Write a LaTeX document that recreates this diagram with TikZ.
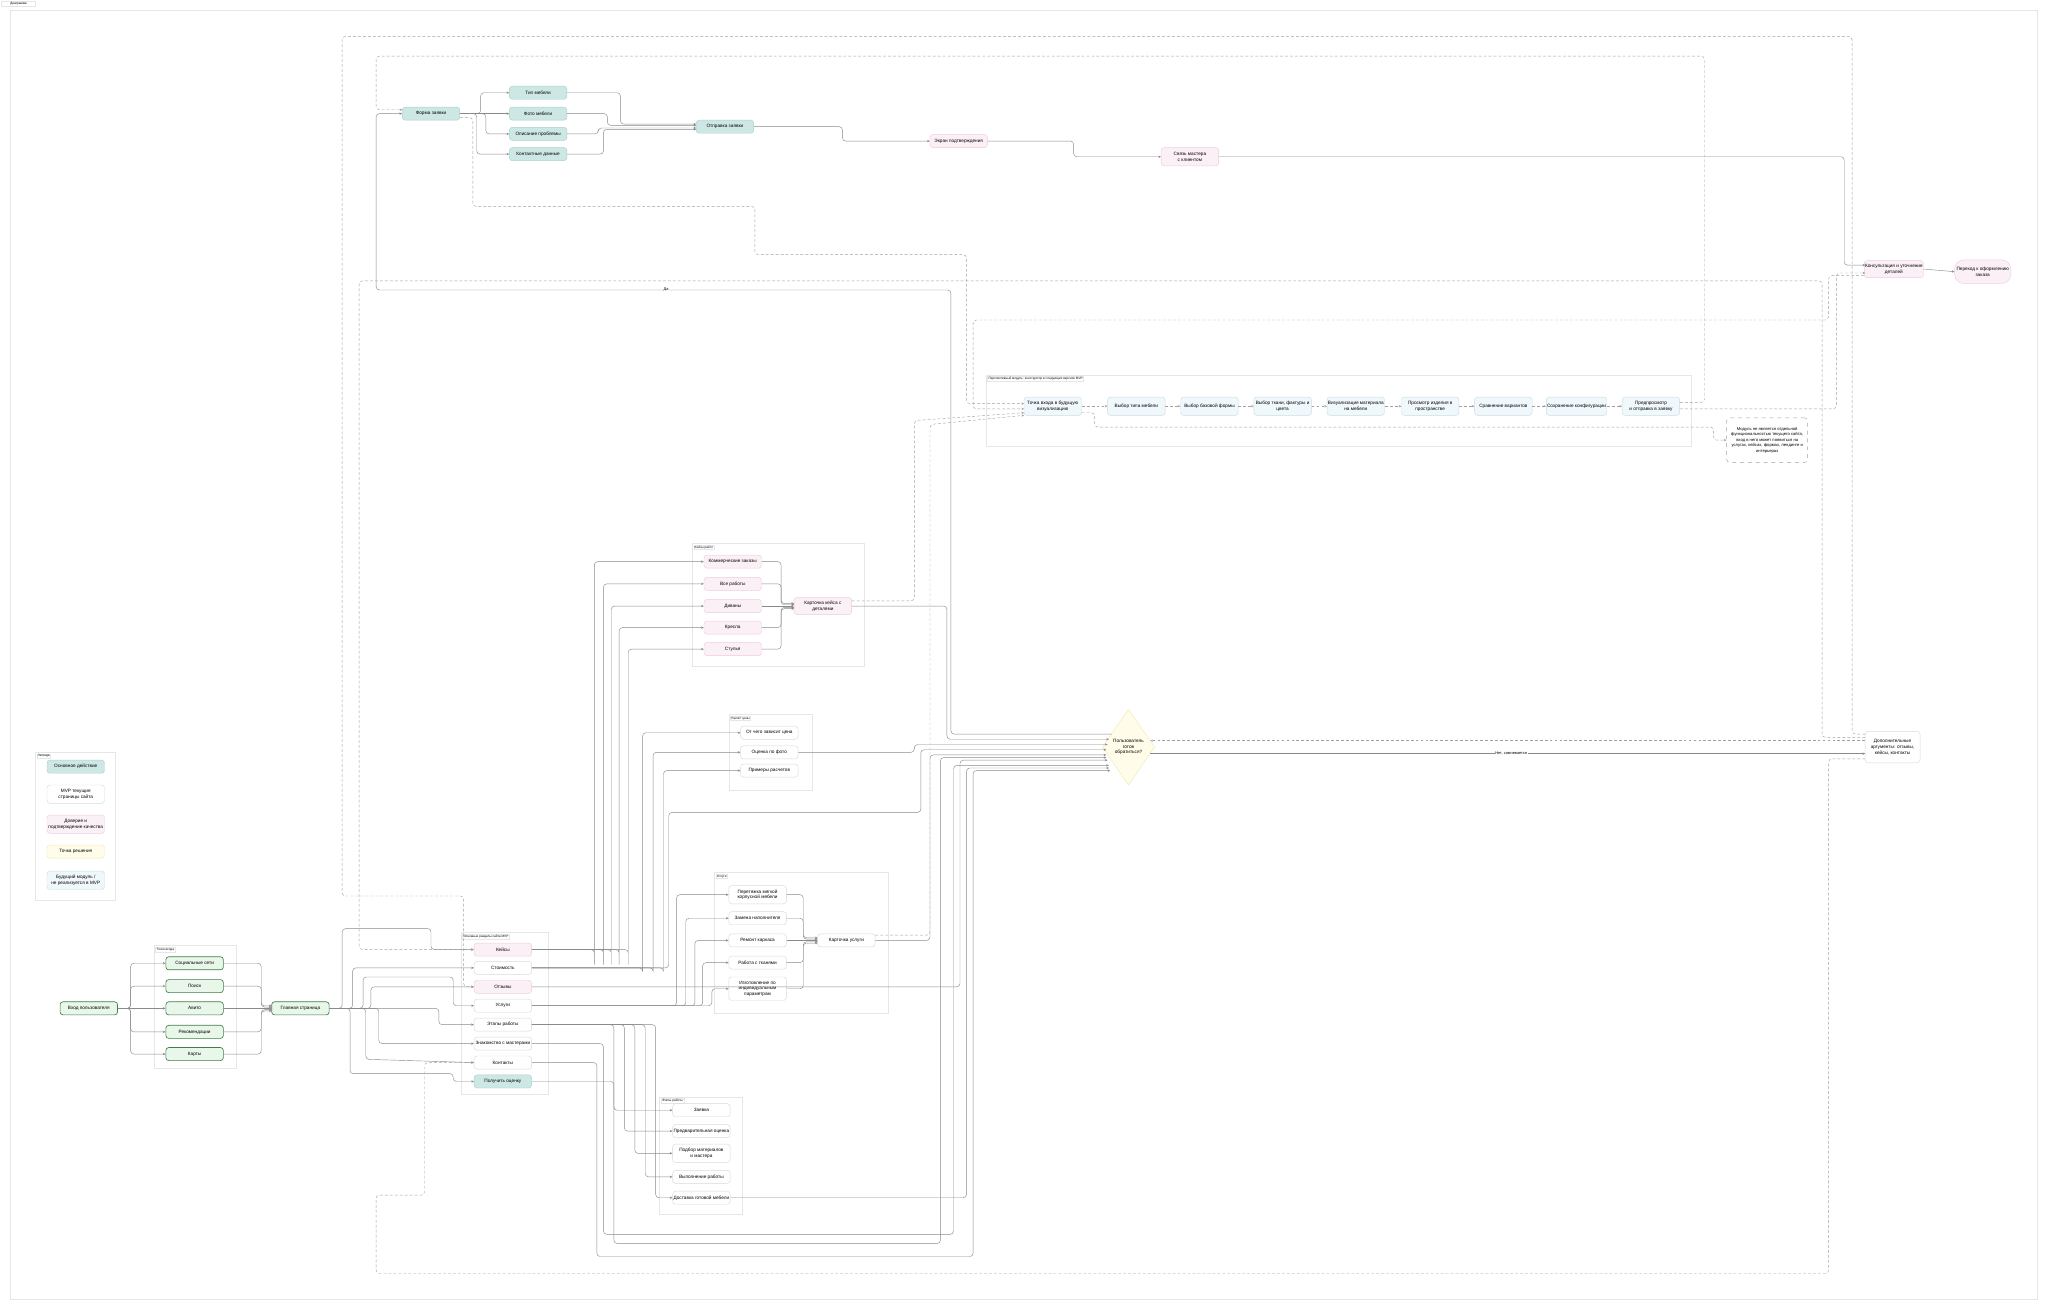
\documentclass[tikz,border=0pt]{standalone}
\usepackage{fontspec}
\setmainfont{Liberation Sans}
\usetikzlibrary{arrows.meta,shapes.geometric,calc}
\definecolor{cTeal}{HTML}{CDE7E5}
\definecolor{cTealB}{HTML}{A9D4CF}
\definecolor{cPink}{HTML}{FCF0F7}
\definecolor{cPinkB}{HTML}{EFCBE0}
\definecolor{cGreen}{HTML}{E9F6EA}
\definecolor{cGreenB}{HTML}{3E7F45}
\definecolor{cWhiteB}{HTML}{DADADA}
\definecolor{cYel}{HTML}{FFFDE9}
\definecolor{cYelB}{HTML}{F2EAB5}
\definecolor{cBlue}{HTML}{F0F8FC}
\definecolor{cBlueB}{HTML}{C8DEE7}
\definecolor{cGrp}{HTML}{E6E6E6}
\definecolor{cEdge}{HTML}{8A8A8A}
\begin{document}
\begin{tikzpicture}[x=1pt,y=-1pt,
  every node/.style={font=\fontsize{3.6}{4.3}\selectfont},
  nd/.style={rounded corners=2.2pt, minimum width=44pt, minimum height=10pt, inner sep=0.6pt, align=center, line width=0.35pt},
  nW/.style={nd, fill=white, draw=cWhiteB},
  nT/.style={nd, fill=cTeal, draw=cTealB},
  nP/.style={nd, fill=cPink, draw=cPinkB},
  nG/.style={nd, fill=cGreen, draw=cGreenB, line width=0.5pt},
  nB/.style={nd, fill=cBlue, draw=cBlueB, minimum height=14pt},
  nY/.style={nd, fill=cYel, draw=cYelB},
  grp/.style={draw=cGrp, fill=white, line width=0.35pt},
  glabel/.style={draw=cGrp, fill=white, inner sep=0.7pt, font=\fontsize{2.4}{2.8}\selectfont, anchor=north west},
  e/.style={draw=cEdge, line width=0.33pt, rounded corners=2.5pt, -{Stealth[length=2pt,width=1.8pt]}},
  ed/.style={e, dash pattern=on 2.2pt off 1.6pt, draw=cEdge!80},
  elab/.style={fill=white, inner sep=0.6pt, font=\fontsize{3}{3.5}\selectfont}
]
\fill[white] (0,0) rectangle (1568,1002);
\useasboundingbox (0,0) rectangle (1568,1002);
\draw[cGrp, line width=0.35pt] (8,8) rectangle (1560,995);
\node[draw=cGrp, fill=white, inner sep=0.8pt, minimum width=26pt, font=\fontsize{2.4}{2.8}\selectfont, anchor=north west] (title) at (1,0.5) {Диаграмма};

% ---------- groups ----------
\draw[grp] (118,724) rectangle (181,818);
\node[glabel] (gl1) at (119,725) {Точки входа};
\draw[grp] (353,714) rectangle (420,838);
\node[glabel] (gl2) at (354,715) {Основные разделы сайта MVP};
\draw[grp] (530,416) rectangle (662,510);
\node[glabel] (gl3) at (531,417) {Кейсы работ};
\draw[grp] (558,547) rectangle (622,605);
\node[glabel] (gl4) at (559,548) {Расчёт цены};
\draw[grp] (547,668) rectangle (680,776);
\node[glabel] (gl5) at (548,669) {Услуги};
\draw[grp] (505,840) rectangle (568,930);
\node[glabel] (gl6) at (506,841) {Этапы работы};
\draw[grp] (755,287) rectangle (1295,342);
\node[glabel] (gl7) at (756,288) {Перспективный модуль: конструктор в следующих версиях MVP};
\draw[grp] (27,576) rectangle (88,689);
\node[glabel] (gl8) at (28,577) {Легенда};

% ---------- legend ----------
\node[nT] (l1) at (58,587) {Основное действие};
\node[nW, minimum height=14pt] (l2) at (58,608) {MVP текущие\\страницы сайта};
\node[nP, minimum height=14pt] (l3) at (58,631) {Доверие и\\подтверждение качества};
\node[nY] (l4) at (58,652) {Точка решения};
\node[nB] (l5) at (58,674) {Будущий модуль /\\не реализуется в MVP};

% ---------- left ----------
\node[nG] (vhod) at (68,772) {Вход пользователя};
\node[nG] (s1) at (149,737.5) {Социальные сети};
\node[nG] (s2) at (149,755) {Поиск};
\node[nG] (s3) at (149,772) {Авито};
\node[nG] (s4) at (149,790) {Рекомендации};
\node[nG] (s5) at (149,807) {Карты};
\node[nG] (glav) at (230,772) {Главная страница};

% ---------- sections ----------
\node[nP] (kejs) at (385,727) {Кейсы};
\node[nW] (stoim) at (385,741) {Стоимость};
\node[nP] (otz) at (385,755.5) {Отзывы};
\node[nW] (usl) at (385,770) {Услуги};
\node[nW] (etap) at (385,784.5) {Этапы работы};
\node[nW] (znak) at (385,799) {Знакомство с мастерами};
\node[nW] (kont) at (385,813.5) {Контакты};
\node[nT] (pol) at (385,828) {Получить оценку};

% ---------- top form ----------
\node[nT] (forma) at (330,87) {Форма заявки};
\node[nT] (f1) at (412,71) {Тип мебели};
\node[nT] (f2) at (412,87) {Фото мебели};
\node[nT] (f3) at (412,102.5) {Описание проблемы};
\node[nT] (f4) at (412,118) {Контактные данные};
\node[nT] (otpr) at (555,97) {Отправка заявки};
\node[nP] (ekr) at (734,108) {Экран подтверждения};
\node[nP, minimum height=14pt] (svz) at (911,120) {Связь мастера\\с клиентом};
\node[nP, minimum height=13pt] (kons) at (1450,206) {Консультация и уточнение\\деталей};
\node[nP, minimum height=18pt, minimum width=43pt, rounded corners=7pt] (per) at (1518,208) {Переход к оформлению\\заказа};

% ---------- future module ----------
\node[nB] (q1) at (806,311) {Точка входа в будущую\\визуализацию};
\node[nB] (q2) at (870,311) {Выбор типа мебели};
\node[nB] (q3) at (926,311) {Выбор базовой формы};
\node[nB] (q4) at (982,311) {Выбор ткани, фактуры и\\цвета};
\node[nB] (q5) at (1038,311) {Визуализация материала\\на мебели};
\node[nB] (q6) at (1095,311) {Просмотр изделия в\\пространстве};
\node[nB] (q7) at (1151,311) {Сравнение вариантов};
\node[nB] (q8) at (1207,311) {Сохранение конфигурации};
\node[nB] (q9) at (1264,311) {Предпросмотр\\и отправка в заявку};
\node[nd, fill=white, draw=cEdge!80, dashed, minimum width=62pt, minimum height=34pt, font=\fontsize{3.2}{4.3}\selectfont] (note) at (1353,337) {Модуль не является отдельной\\функциональностью текущего сайта,\\вход в него может появиться на\\услугах, кейсах, формах, лендинге и\\интерьерах};

% ---------- cases ----------
\node[nP] (c1) at (561,430) {Коммерческие заказы};
\node[nP] (c2) at (561,447) {Все работы};
\node[nP] (c3) at (561,464) {Диваны};
\node[nP] (c4) at (561,480.5) {Кресла};
\node[nP] (c5) at (561,497) {Стулья};
\node[nP, minimum height=13pt] (ccard) at (630,464) {Карточка кейса с\\деталями};

% ---------- price ----------
\node[nW] (p1) at (589,561) {От чего зависит цена};
\node[nW] (p2) at (589,576) {Оценка по фото};
\node[nW] (p3) at (589,590) {Примеры расчетов};

% ---------- services ----------
\node[nW, minimum height=14pt] (u1) at (580,685) {Перетяжка мягкой\\корпусной мебели};
\node[nW] (u2) at (580,703) {Замена наполнителя};
\node[nW] (u3) at (580,720) {Ремонт каркаса};
\node[nW] (u4) at (580,737) {Работа с тканями};
\node[nW, minimum height=18pt] (u5) at (580,757) {Изготовление по\\индивидуальным\\параметрам};
\node[nW] (ucard) at (648,720) {Карточка услуги};

% ---------- stages ----------
\node[nW] (e1) at (537,850) {Заявка};
\node[nW] (e2) at (537,866) {Предварительная оценка};
\node[nW, minimum height=14pt] (e3) at (537,883) {Подбор материалов\\и мастера};
\node[nW] (e4) at (537,901) {Выполнение работы};
\node[nW] (e5) at (537,917) {Доставка готовой мебели};

% ---------- decision ----------
\node[diamond, fill=cYel, draw=cYelB, line width=0.35pt, minimum width=40pt, minimum height=58pt, inner sep=0pt, align=center] (dia) at (864,572) {Пользователь\\готов\\обратиться?};
\node[nW, minimum width=42pt, minimum height=24pt] (dop) at (1449,572) {Дополнительные\\аргументы: отзывы,\\кейсы, контакты};

% ================= edges =================
% entry
\foreach \t in {s1,s2,s4,s5} { \draw[e] (vhod.east) -- (100,772) |- (\t.west); }
\draw[e] (vhod.east) -- (s3.west);
\foreach \t/\yy in {s1/770,s2/771,s4/773,s5/774} { \draw[e] (\t.east) -| (200,\yy) -- (208,\yy); }
\draw[e] (s3.east) -- (glav.west);

% main -> sections
\draw[e] (glav.east) -| (262,711) -- (330,711) |- (kejs.west);
\draw[e] (glav.east) -| (270,741) -- (stoim.west);
\draw[e] (glav.east) -| (284,755.5) -- (otz.west);
\draw[e] (glav.east) -| (278,748) -- (347,748) |- (usl.west);
\draw[e] (glav.east) -- (336,772) |- (etap.west);
\draw[e] (glav.east) -| (290,799) -- (znak.west);
\draw[e] (glav.east) -| (280,811) -- (kont.west);
\draw[e] (glav.east) -| (268,822) -- (347,822) |- (pol.west);

% sections -> subgroups
\foreach \t/\xx in {c1/455,c2/462,c3/468,c4/474,c5/481} { \draw[e] (kejs.east) -| (\xx,740) |- (\t.west); }
\foreach \t/\xx in {p1/492,p2/500,p3/508} { \draw[e] (stoim.east) -| (\xx,745) |- (\t.west); }
\foreach \t/\xx in {u1/518,u2/525,u3/532,u4/538,u5/545} { \draw[e] (usl.east) -| (\xx,765) |- (\t.west); }
\foreach \t/\xx in {e1/470,e2/478,e3/486,e4/494,e5/502} { \draw[e] (etap.east) -| (\xx,790) |- (\t.west); }
\foreach \t/\yy in {c1/462,c2/463,c4/465,c5/466} { \draw[e] (\t.east) -| (598,\yy) -- (608,\yy); }
\draw[e] (c3.east) -- (ccard.west);
\foreach \t/\yy in {u1/718,u2/719,u4/721,u5/722} { \draw[e] (\t.east) -| (615,\yy) -- (626,\yy); }
\draw[e] (u3.east) -- (ucard.west);

% -> decision
\draw[e] (ccard.east) -| (725,566) -- (849,566);
\draw[e] (p2.east) -| (700,570) -- (848,570);
\draw[e] (stoim.east) -| (512,622) -| (705,574) -- (847,574);
\draw[e] (ucard.east) -| (712,578) -- (847,578);
\draw[e] (otz.east) -| (735,582) -- (848,582);
\draw[e] (znak.east) -| (462,945) -| (730,586) -- (849,586);
\draw[e] (kont.east) -| (457,962) -| (745,590) -- (850,590);
\draw[e] (e5.east) -| (740,588) -- (849,588);
\draw[e] (pol.east) -| (470,952) -| (720,580) -- (847,580);

% decision -> yes / no
\draw[e] (851,562) -- (728,562) -- (728,222) -- (288,222) |- (forma.west);
\node[elab] (da) at (510,222) {Да};
\draw[e] ($(dia.east)+(-3.4,5)$) -- (1428,577);
\node[elab] (net) at (1157,577) {Нет, сомневается};

% form chain
\draw[e] (forma.east) -| (368,71) -- (f1.west);
\draw[e] (forma.east) -- (f2.west);
\draw[e] (forma.east) -| (372,102.5) -- (f3.west);
\draw[e] (forma.east) -| (365,118) -- (f4.west);
\draw[e] (f1.east) -| (475,95) -- (533,95);
\draw[e] (f2.east) -| (465,96) -- (533,96);
\draw[e] (f3.east) -| (458,98) -- (533,98);
\draw[e] (f4.east) -| (462,99) -- (533,99);
\draw[e] (otpr.east) -| (645,108) -- (ekr.west);
\draw[e] (ekr.east) -| (822,120) -- (svz.west);
\draw[e] (svz.east) -| (1412,203) -- (1428,203);
\draw[e] (kons.east) -- (per.west);

% future chain
\foreach \a/\b in {q1/q2,q2/q3,q3/q4,q4/q5,q5/q6,q6/q7,q7/q8,q8/q9} { \draw[ed] (\a) -- (\b); }
\draw[ed] ($(q1.east)+(0,5)$) -| (838,327) -- (1312,327) |- (note.west);
\draw[ed] ($(forma.east)+(0,3)$) -| (362,158) -- (578,158) -- (578,195) -- (740,195) |- (784,309);
\draw[ed] ($(kons.west)+(0,5)$) -| (1400,245) -- (745,245) |- (784,313);
\draw[ed] ($(ccard.east)+(0,-4)$) -| (700,322) -- (784,316);
\draw[ed] ($(ucard.east)+(0,-4)$) -| (712,325) -- (784,318);
\draw[ed] ($(q9.east)+(0,-3)$) -| (1305,43) -- (288,43) |- (308,84);
\draw[ed] ($(q9.east)+(0,2)$) -| (1406,209) -- (1428,209);

% extra arguments (dashed back)
\draw[ed] (1428,567) -- ($(dia.east)+(-3.4,-5)$);
\draw[ed] (1428,562) -| (1418,28) -- (262,28) -- (262,686) -- (355,686) |- (otz.west);
\draw[ed] (1428,564.5) -| (1395,215) -- (275,215) |- (kejs.west);
\draw[ed] (1428,581) -| (1400,975) -- (288,975) -- (288,915) -- (325,915) |- (kont.west);
\end{tikzpicture}
\end{document}
